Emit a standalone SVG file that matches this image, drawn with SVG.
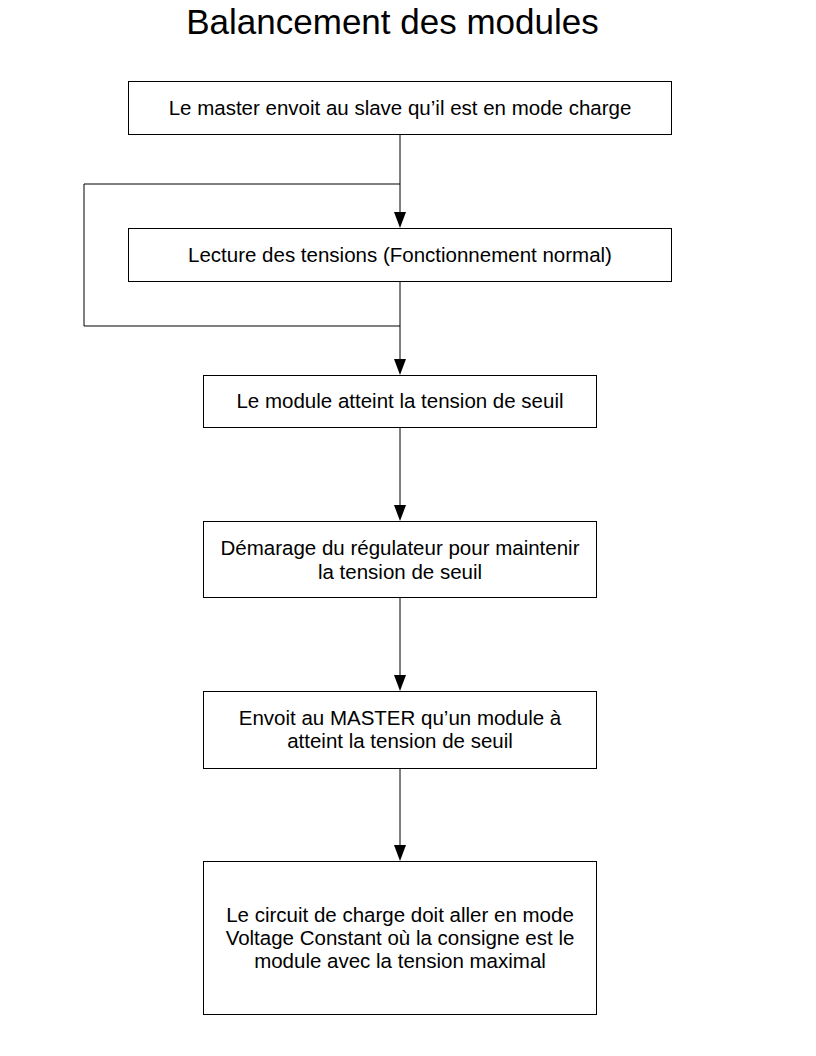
<svg xmlns="http://www.w3.org/2000/svg" width="816" height="1056" viewBox="0 0 816 1056">
<defs>
<style>
.box{fill:#fff;stroke:#000;stroke-width:1}
.t{font-family:"Liberation Sans",Arial,sans-serif;font-size:20.5px;fill:#000;text-anchor:middle}
.c{fill:none;stroke:#000;stroke-width:1}
.h{fill:#000}
</style>
</defs>
<rect width="816" height="1056" fill="#fff"/>
<text x="392.5" y="34" font-family="Liberation Sans, Arial, sans-serif" font-size="35" text-anchor="middle">Balancement des modules</text>
<g id="connectors">
<path class="c" d="M400,134 V212"/>
<path class="h" d="M394,212 L406,212 L400,228 Z"/>
<path class="c" d="M400,281 V359"/>
<path class="h" d="M394,359 L406,359 L400,375 Z"/>
<path class="c" d="M400,184 H84 V326 H400"/>
<path class="c" d="M400,427 V505"/>
<path class="h" d="M394,505 L406,505 L400,521 Z"/>
<path class="c" d="M400,597 V675"/>
<path class="h" d="M394,675 L406,675 L400,691 Z"/>
<path class="c" d="M400,768 V845"/>
<path class="h" d="M394,845 L406,845 L400,861 Z"/>
</g>
<g id="n1"><rect class="box" x="128.5" y="81.5" width="543" height="53"/><text class="t" x="400" y="115">Le master envoit au slave qu’il est en mode charge</text></g>
<g id="n2"><rect class="box" x="128.5" y="228.5" width="543" height="53"/><text class="t" x="400" y="262">Lecture des tensions (Fonctionnement normal)</text></g>
<g id="n3"><rect class="box" x="203.5" y="375.5" width="393" height="52"/><text class="t" x="400" y="408">Le module atteint la tension de seuil</text></g>
<g id="n4"><rect class="box" x="203.5" y="521.5" width="393" height="76"/><text class="t" x="400" y="555">Démarage du régulateur pour maintenir</text><text class="t" x="400" y="579">la tension de seuil</text></g>
<g id="n5"><rect class="box" x="203.5" y="691.5" width="393" height="77"/><text class="t" x="400" y="725">Envoit au MASTER qu’un module à</text><text class="t" x="400" y="748">atteint la tension de seuil</text></g>
<g id="n6"><rect class="box" x="203.5" y="861.5" width="393" height="153"/><text class="t" x="400" y="922">Le circuit de charge doit aller en mode</text><text class="t" x="400" y="945">Voltage Constant où la consigne est le</text><text class="t" x="400" y="968">module avec la tension maximal</text></g>
</svg>
